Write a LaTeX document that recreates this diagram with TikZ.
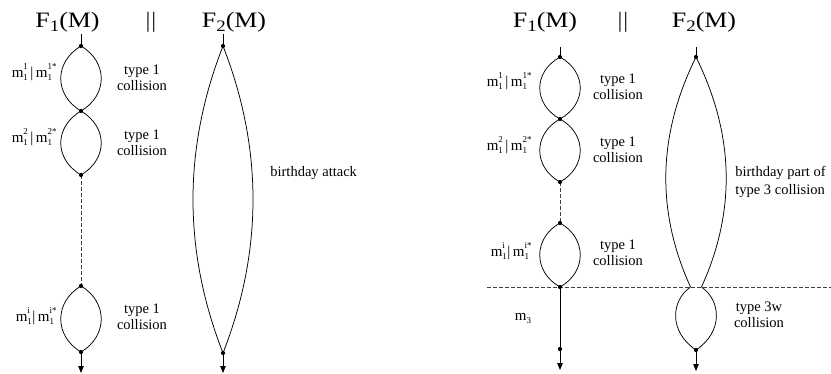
\documentclass[tikz,border=0pt]{standalone}
\usepackage{fontspec}
\setmainfont{Liberation Serif}
\usetikzlibrary{arrows.meta}
\newcommand\mlab[1]{m\rlap{\raisebox{-0.22em}{\fontsize{9}{9}\selectfont 1}}\raisebox{0.5em}{\fontsize{9}{9}\selectfont #1}}
\newcommand\pairlab[2]{\mlab{#1}\kern2.5pt|\kern2.5pt\mlab{#2}}
\newcommand\ttl[1]{\scalebox{1.18}[1]{F\raisebox{-0.2em}{\fontsize{16}{16}\selectfont #1}(M)}}
\begin{document}
\begin{tikzpicture}[x=1pt,y=-1pt,line width=0.75pt,
  title/.style={inner sep=0pt,font=\fontsize{22}{24}\selectfont},
  lbl/.style={inner sep=0pt,align=center,font=\fontsize{14.5}{16.5}\selectfont},
  mlbl/.style={inner sep=0pt,anchor=east,font=\fontsize{15}{16}\selectfont},
  dashln/.style={dash pattern=on 3.5pt off 2.5pt,line width=0.75pt,black!75},
  arr/.style={-{Triangle[length=7pt,width=5.5pt]},line width=0.85pt},
  dotc/.style={fill=black}]
\useasboundingbox (0,0) rectangle (831,373);
% ---------- left panel coordinates
\coordinate (a0) at (81,34);
\coordinate (a1) at (81,46);
\coordinate (a2) at (81,111);
\coordinate (a3) at (81,175);
\coordinate (a4) at (81,286);
\coordinate (a5) at (81,352);
\coordinate (a6) at (81,373);
\coordinate (b0) at (223,34);
\coordinate (b1) at (223,46);
\coordinate (b2) at (223,353);
\coordinate (b3) at (223,373);
% ---------- right panel coordinates
\coordinate (c0) at (560,47);
\coordinate (c1) at (560,57);
\coordinate (c2) at (560,119);
\coordinate (c3) at (560,182);
\coordinate (c4) at (560,223);
\coordinate (c5) at (560,287);
\coordinate (c6) at (560,349);
\coordinate (c7) at (560,370);
\coordinate (d0) at (696,47);
\coordinate (d1) at (696,57);
\coordinate (dl) at (690.5,287);
\coordinate (dr) at (701.5,287);
\coordinate (d2) at (696,350);
\coordinate (d3) at (696,371);
\coordinate (h0) at (487,287);
\coordinate (h1) at (831,287);
% ---------- titles
\node[title] (t1) at (67.5,22) {\ttl{1}};
\node[title] (t2) at (151,22) {|\kern1.5pt|};
\node[title] (t3) at (234,22) {\ttl{2}};
\node[title] (u1) at (545,22) {\ttl{1}};
\node[title] (u2) at (623,22) {|\kern1.5pt|};
\node[title] (u3) at (704,22) {\ttl{2}};
% ---------- left chain
\draw (a0) -- (a1);
\draw (a1) .. controls +(-27,16) and +(-27,-16) .. (a2);
\draw (a1) .. controls +(27,16) and +(27,-16) .. (a2);
\draw (a2) .. controls +(-27,16) and +(-27,-16) .. (a3);
\draw (a2) .. controls +(27,16) and +(27,-16) .. (a3);
\draw[dashln] (a3) -- (a4);
\draw (a4) .. controls +(-27,16) and +(-27,-16) .. (a5);
\draw (a4) .. controls +(27,16) and +(27,-16) .. (a5);
\draw[arr] (a5) -- (a6);
% left F2
\draw (b0) -- (b1);
\draw (b1) .. controls +(-40,102) and +(-40,-102) .. (b2);
\draw (b1) .. controls +(40,102) and +(40,-102) .. (b2);
\draw[arr] (b2) -- (b3);
% ---------- right chain
\draw[dashln] (h0) -- (h1);
\draw (c0) -- (c1);
\draw (c1) .. controls +(-27,15) and +(-27,-15) .. (c2);
\draw (c1) .. controls +(27,15) and +(27,-15) .. (c2);
\draw (c2) .. controls +(-27,15) and +(-27,-15) .. (c3);
\draw (c2) .. controls +(27,15) and +(27,-15) .. (c3);
\draw[dashln] (c3) -- (c4);
\draw (c4) .. controls +(-27,15) and +(-27,-15) .. (c5);
\draw (c4) .. controls +(27,15) and +(27,-15) .. (c5);
\draw[line width=0.85pt] (c5) -- (c6);
\draw[arr] (c6) -- (c7);
% right F2
\draw (d0) -- (d1);
\draw (d1) .. controls +(-38,77) and +(-35,-77) .. (dl);
\draw (d1) .. controls +(38,77) and +(35,-77) .. (dr);
\draw (dl) .. controls +(-20,14) and +(-27,-18) .. (d2);
\draw (dr) .. controls +(20,14) and +(27,-18) .. (d2);
\draw[arr] (d2) -- (d3);
% ---------- dots
\foreach \p in {a1,a2,a3,a4,a5,b1,b2,c1,c2,c3,c4,c5,c6,d1,d2}
  \fill[dotc] (\p) circle[radius=2.1pt];
% ---------- labels left
\node[mlbl] (l1) at (57,72) {\pairlab{1}{1*}};
\node[mlbl] (l2) at (57,137) {\pairlab{2}{2*}};
\node[mlbl] (l3) at (57,316) {\pairlab{i}{i*}};
\node[lbl] (k1) at (142,78) {type 1\\collision};
\node[lbl] (k2) at (142,143) {type 1\\collision};
\node[lbl] (k3) at (142,317) {type 1\\collision};
\node[lbl,anchor=west] (ba) at (270,173) {birthday attack};
% ---------- labels right
\node[mlbl] (r1) at (532,81) {\pairlab{1}{1*}};
\node[mlbl] (r2) at (532,145) {\pairlab{2}{2*}};
\node[mlbl] (r3) at (532,251) {\pairlab{i}{i*}};
\node[lbl] (q1) at (618,87) {type 1\\collision};
\node[lbl] (q2) at (618,150) {type 1\\collision};
\node[lbl] (q3) at (618,253) {type 1\\collision};
\node[lbl] (q4) at (759,315) {type 3w\\collision};
\node[lbl,anchor=west,align=left,font=\fontsize{14.5}{18.5}\selectfont] (bp) at (735,182) {birthday part of\\type 3 collision};
\node[mlbl,anchor=center] (m3) at (523,319) {m\raisebox{-0.2em}{\fontsize{9}{9}\selectfont 3}};
\end{tikzpicture}
\end{document}
